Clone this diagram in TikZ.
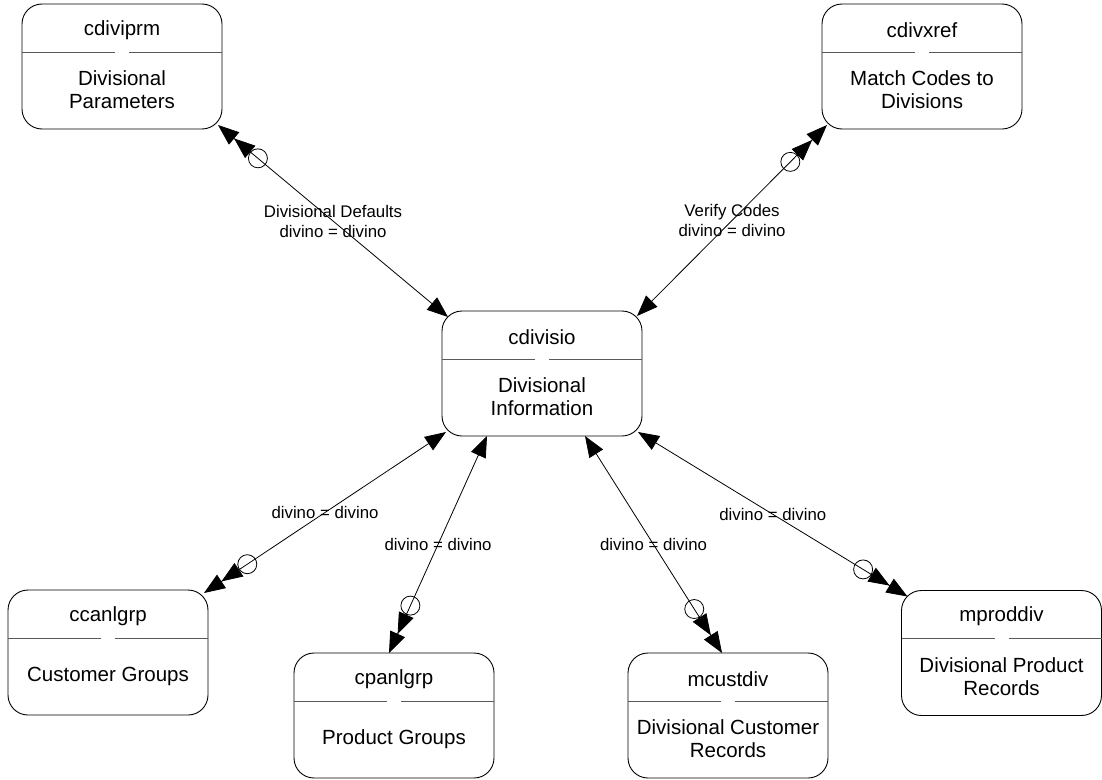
\documentclass[tikz,border=0pt]{standalone}
\usepackage{fontspec}
\setmainfont{Liberation Sans}
\usetikzlibrary{arrows.meta,calc}

\begin{document}
\begin{tikzpicture}[x=1pt, y=-1pt,
    tabela/.style={draw, line width=0.9pt, rounded corners=20pt, minimum width=200pt, minimum height=125pt, inner sep=0pt, outer sep=0pt},
    titulo/.style={font=\fontsize{20.5pt}{23pt}\selectfont},
    descricao/.style={font=\fontsize{20.5pt}{23pt}\selectfont, align=center},
    divisor/.style={black!65, line width=1pt},
    ligacao/.style={line width=0.8pt, {Triangle[length=21pt, width=16pt]}-{Triangle[length=21pt, width=16pt, sep=0pt]Triangle[length=21pt, width=16pt, sep=0pt]}},
    rotulo/.style={font=\fontsize{16.8pt}{20pt}\selectfont, align=center},
    anel/.style={draw, circle, minimum size=19pt, inner sep=0pt, line width=0.8pt}]

  \useasboundingbox (0,0) rectangle (1102,779);

  % Tabelas: nome/x/y/{Descrição}
  \foreach \nome/\x/\y/\desc in {cdiviprm/122/66.5/{Divisional\\Parameters}, cdivxref/922/66.5/{Match Codes to\\Divisions}, cdivisio/542/373.5/{Divisional\\Information}, ccanlgrp/108/652.5/{Customer Groups}, cpanlgrp/394/715.5/{Product Groups}, mcustdiv/728/715.5/{Divisional Customer\\Records}, mproddiv/1001.5/653/{Divisional Product\\Records}} {

    \node[tabela] (\nome) at (\x,\y) {};
    \node[titulo] (\nome-tit) at ([yshift=-26pt]\nome.north) {\nome};
    \node[descricao] (\nome-desc) at ([yshift=-86pt]\nome.north) {\desc};

    % Linha divisória com abertura no meio
    \draw[divisor] ([yshift=-48pt]\nome.north west) -- ([xshift=-7pt, yshift=-48pt]\nome.north);
    \draw[divisor] ([xshift=7pt, yshift=-48pt]\nome.north) -- ([yshift=-48pt]\nome.north east);
  }

  % Pontos de ligação nas bordas
  \coordinate (io-nw) at ([shift={(6pt,-6pt)}]cdivisio.north west);
  \coordinate (io-ne) at ([shift={(-5pt,-5pt)}]cdivisio.north east);
  \coordinate (io-sw) at ([shift={(4pt,4pt)}]cdivisio.south west);
  \coordinate (io-s1) at ([xshift=-55pt]cdivisio.south);
  \coordinate (io-s2) at ([xshift=43pt]cdivisio.south);
  \coordinate (io-se) at ([shift={(-4pt,4pt)}]cdivisio.south east);
  \coordinate (prm) at ([shift={(-4pt,4pt)}]cdiviprm.south east);
  \coordinate (xref) at ([shift={(5pt,4pt)}]cdivxref.south west);
  \coordinate (can) at ([shift={(-4pt,-3pt)}]ccanlgrp.north east);
  \coordinate (cpan) at ([xshift=-5pt]cpanlgrp.north);
  \coordinate (mcust) at ([xshift=-6pt]mcustdiv.north);
  \coordinate (prod) at ([shift={(6pt,-6pt)}]mproddiv.north west);

  % Relacionamentos: origem/destino/{Rótulo}
  \foreach \de/\para/\txt in {io-nw/prm/{Divisional Defaults\\divino = divino}, io-ne/xref/{Verify Codes\\divino = divino}, io-sw/can/{divino = divino}, io-s1/cpan/{divino = divino}, io-s2/mcust/{divino = divino}, io-se/prod/{divino = divino}} {
    \draw[ligacao] (\de) -- node[rotulo] {\txt} (\para);
    \node[anel] (\para-anel) at ($(\para)!52pt!(\de)$) {};
  }
\end{tikzpicture}
\end{document}
